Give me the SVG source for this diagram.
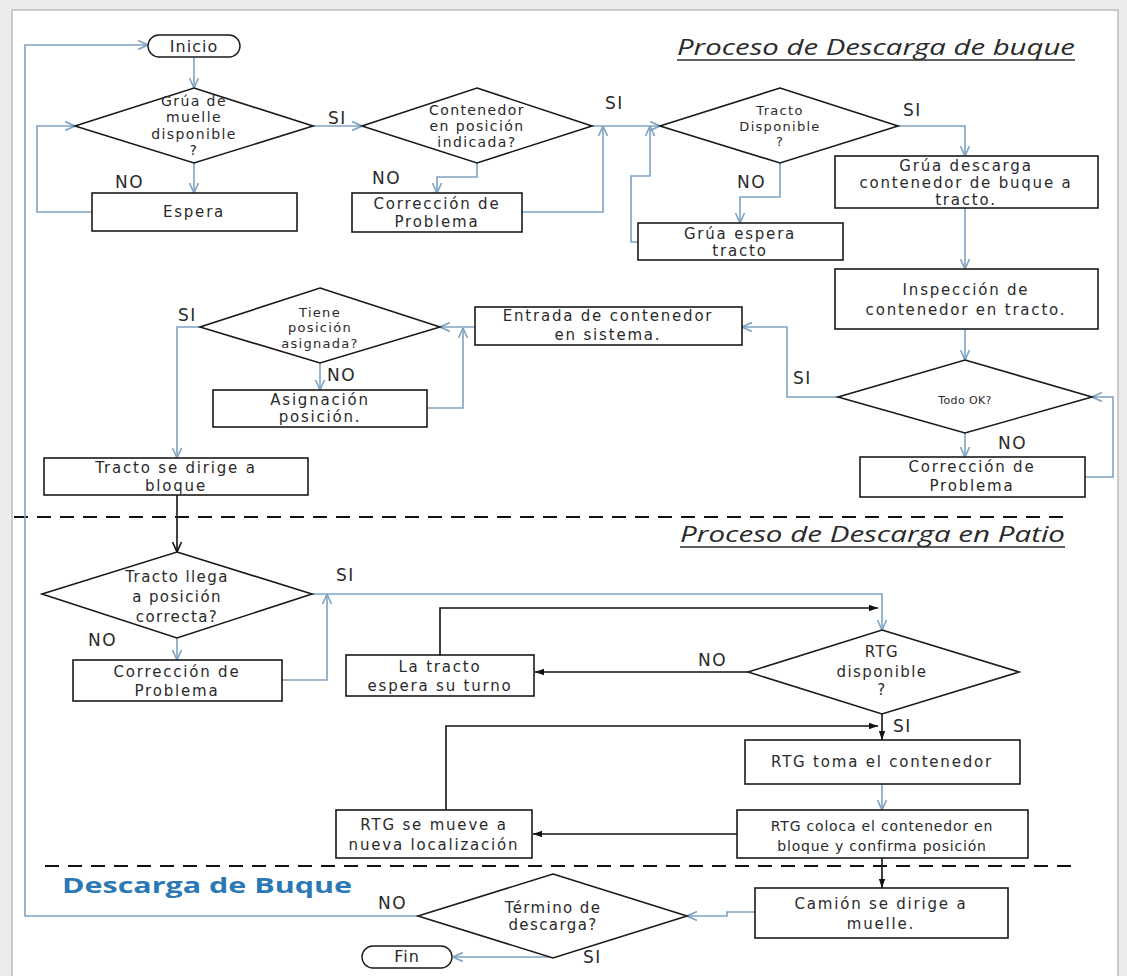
<svg xmlns="http://www.w3.org/2000/svg" width="1127" height="976" viewBox="0 0 1127 976">
<defs>
<marker id="ab" viewBox="0 0 10 10" refX="10" refY="5" markerWidth="10" markerHeight="10" markerUnits="userSpaceOnUse" orient="auto"><path d="M0,0.5 L10,5 L0,9.5" fill="none" stroke="#7fa3c3" stroke-width="1.6"/></marker>
<marker id="ak" viewBox="0 0 10 10" refX="10" refY="5" markerWidth="10" markerHeight="10" markerUnits="userSpaceOnUse" orient="auto"><path d="M0,0.5 L10,5 L0,9.5" fill="none" stroke="#111" stroke-width="1.6"/></marker>
<marker id="af" viewBox="0 0 10 10" refX="10" refY="5" markerWidth="9" markerHeight="9" markerUnits="userSpaceOnUse" orient="auto"><path d="M0,1.5 L10,5 L0,8.5 z" fill="#111"/></marker>
</defs>
<style>
.bg{fill:#ececec}
.panel{fill:#fff;stroke:#bdbdbd;stroke-width:1.5}
.box{fill:#fff;stroke:#1a1a1a;stroke-width:1.6}
.term{fill:#fff;stroke:#1a1a1a;stroke-width:1.4}
.t{font-family:"DejaVu Sans",sans-serif;font-size:15px;letter-spacing:1.8px;fill:#2a2a2a;text-anchor:middle}
.d14{font-size:14px;letter-spacing:1.4px}
.d13{font-size:13px;letter-spacing:1.3px}
.d15{font-size:15px;letter-spacing:1.4px}
.s14{font-size:14px;letter-spacing:0.8px}
.s16{font-size:16px;letter-spacing:1px}
.s11{font-size:11px;letter-spacing:0.4px}
.lbl{font-family:"DejaVu Sans",sans-serif;font-size:17px;letter-spacing:1.5px;fill:#2a2a2a}
.cb{fill:none;stroke:#7fa3c3;stroke-width:1.6}
.ck{fill:none;stroke:#111;stroke-width:1.6}
.dash{fill:none;stroke:#111;stroke-width:2.2;stroke-dasharray:14 9}
.title{font-family:"Open Sans",sans-serif;font-style:italic;font-size:22px;fill:#2a2a2a}
.ul{stroke:#2a2a2a;stroke-width:1.3}
.sec{font-family:"Open Sans",sans-serif;font-weight:bold;font-size:22px;fill:#2b78b5}
</style>
<rect class="bg" x="0" y="0" width="1127" height="976"/>
<rect class="panel" x="12" y="10" width="1106" height="980"/>

<g id="titles">
<text class="title" x="677" y="55" textLength="398" lengthAdjust="spacingAndGlyphs">Proceso de Descarga de buque</text>
<line class="ul" x1="677" y1="60" x2="1075" y2="60"/>
<text class="title" x="680" y="542" textLength="385" lengthAdjust="spacingAndGlyphs">Proceso de Descarga en Patio</text>
<line class="ul" x1="680" y1="547" x2="1065" y2="547"/>
<text class="sec" x="62" y="893" textLength="290" lengthAdjust="spacingAndGlyphs">Descarga de Buque</text>
<line class="dash" x1="14" y1="517" x2="1072" y2="517"/>
<line class="dash" x1="45" y1="866" x2="1072" y2="866"/>
</g>

<g id="connectors">
<path class="cb" d="M194,57 V88" marker-end="url(#ab)"/>
<path class="cb" d="M194,163 V193" marker-end="url(#ab)"/>
<path class="cb" d="M92,212 H37 V126 H75" marker-end="url(#ab)"/>
<path class="cb" d="M313,126 H362" marker-end="url(#ab)"/>
<path class="cb" d="M477,163 V177 H437 V193" marker-end="url(#ab)"/>
<path class="cb" d="M522,212 H603 V126" marker-end="url(#ab)"/>
<path class="cb" d="M592,126 H660" marker-end="url(#ab)"/>
<path class="cb" d="M638,242 H631 V176 H650 V126" marker-end="url(#ab)"/>
<path class="cb" d="M780,163 V197 H740 V223" marker-end="url(#ab)"/>
<path class="cb" d="M898,126 H965 V156" marker-end="url(#ab)"/>
<path class="cb" d="M965,208 V269" marker-end="url(#ab)"/>
<path class="cb" d="M965,329 V360" marker-end="url(#ab)"/>
<path class="cb" d="M965,433 V457" marker-end="url(#ab)"/>
<path class="cb" d="M1085,477 H1113 V397 H1092" marker-end="url(#ab)"/>
<path class="cb" d="M838,397 H787 V327 H742" marker-end="url(#ab)"/>
<path class="cb" d="M475,327 H440" marker-end="url(#ab)"/>
<path class="cb" d="M427,408 H463 V328" marker-end="url(#ab)"/>
<path class="cb" d="M320,363 V390" marker-end="url(#ab)"/>
<path class="cb" d="M200,327 H177 V458" marker-end="url(#ab)"/>
<path class="ck" d="M177,495 V552" marker-end="url(#ak)"/>
<path class="cb" d="M177,638 V660" marker-end="url(#ab)"/>
<path class="cb" d="M282,680 H327 V594" marker-end="url(#ab)"/>
<path class="cb" d="M312,594 H882 V630" marker-end="url(#ab)"/>
<path class="ck" d="M440,655 V608 H878" marker-end="url(#af)"/>
<path class="ck" d="M748,672 H535" marker-end="url(#af)"/>
<path class="ck" d="M882,714 V740" marker-end="url(#af)"/>
<path class="ck" d="M446,810 V726 H878" marker-end="url(#af)"/>
<path class="cb" d="M882,784 V810" marker-end="url(#ab)"/>
<path class="ck" d="M737,834 H533" marker-end="url(#af)"/>
<path class="ck" d="M882,858 V888" marker-end="url(#af)"/>
<path class="cb" d="M755,912 H727 V916 H687" marker-end="url(#ab)"/>
<path class="cb" d="M418,916 H25 V45 H148" marker-end="url(#ab)"/>
<path class="cb" d="M553,958 V957 H453" marker-end="url(#ab)"/>
</g>

<g id="labels">
<text class="lbl" x="328" y="124">SI</text>
<text class="lbl" x="115" y="188">NO</text>
<text class="lbl" x="372" y="184">NO</text>
<text class="lbl" x="605" y="109">SI</text>
<text class="lbl" x="737" y="188">NO</text>
<text class="lbl" x="903" y="116">SI</text>
<text class="lbl" x="793" y="384">SI</text>
<text class="lbl" x="998" y="449">NO</text>
<text class="lbl" x="178" y="321">SI</text>
<text class="lbl" x="327" y="381">NO</text>
<text class="lbl" x="88" y="646">NO</text>
<text class="lbl" x="336" y="581">SI</text>
<text class="lbl" x="698" y="666">NO</text>
<text class="lbl" x="893" y="732">SI</text>
<text class="lbl" x="378" y="909">NO</text>
<text class="lbl" x="583" y="963">SI</text>
</g>

<g id="inicio"><rect class="term" x="148" y="35" width="92" height="22" rx="11"/><text class="t s16" x="194" y="52">Inicio</text></g>
<g id="d-grua"><polygon class="box" points="194,88 313,126 194,163 75,126"/>
<text class="t d14" x="194" y="106">Grúa de</text><text class="t d14" x="194" y="122">muelle</text><text class="t d14" x="194" y="139">disponible</text><text class="t d14" x="194" y="155">?</text></g>
<g id="espera"><rect class="box" x="92" y="193" width="205" height="38"/><text class="t" x="194" y="217">Espera</text></g>
<g id="d-contenedor"><polygon class="box" points="477,88 592,126 477,163 362,126"/>
<text class="t d14" x="477" y="115">Contenedor</text><text class="t d14" x="477" y="131">en posición</text><text class="t d14" x="477" y="147">indicada?</text></g>
<g id="correccion1"><rect class="box" x="352" y="193" width="170" height="39"/><text class="t" x="437" y="209">Corrección de</text><text class="t" x="437" y="227">Problema</text></g>
<g id="d-tracto"><polygon class="box" points="780,88 898,126 780,163 660,126"/>
<text class="t d13" x="780" y="115">Tracto</text><text class="t d13" x="780" y="131">Disponible</text><text class="t d13" x="780" y="146">?</text></g>
<g id="grua-espera"><rect class="box" x="638" y="223" width="205" height="37"/><text class="t" x="740" y="239">Grúa espera</text><text class="t" x="740" y="256">tracto</text></g>
<g id="grua-descarga"><rect class="box" x="835" y="156" width="263" height="52"/><text class="t" x="966" y="171">Grúa descarga</text><text class="t" x="966" y="188">contenedor de buque a</text><text class="t" x="966" y="205">tracto.</text></g>
<g id="inspeccion"><rect class="box" x="835" y="269" width="263" height="60"/><text class="t" x="966" y="295">Inspección de</text><text class="t" x="966" y="315">contenedor en tracto.</text></g>
<g id="d-todo"><polygon class="box" points="965,360 1092,397 965,433 838,397"/><text class="t s11" x="965" y="404">Todo OK?</text></g>
<g id="correccion3"><rect class="box" x="860" y="457" width="225" height="40"/><text class="t" x="972" y="472">Corrección de</text><text class="t" x="972" y="491">Problema</text></g>
<g id="entrada"><rect class="box" x="475" y="307" width="267" height="38"/><text class="t" x="608" y="321">Entrada de contenedor</text><text class="t" x="608" y="340">en sistema.</text></g>
<g id="d-tiene"><polygon class="box" points="320,288 440,327 320,363 200,327"/>
<text class="t d13" x="320" y="317">Tiene</text><text class="t d13" x="320" y="332">posición</text><text class="t d13" x="320" y="348">asignada?</text></g>
<g id="asignacion"><rect class="box" x="213" y="390" width="214" height="37"/><text class="t" x="320" y="405">Asignación</text><text class="t" x="320" y="422">posición.</text></g>
<g id="tracto-dirige"><rect class="box" x="44" y="458" width="264" height="37"/><text class="t" x="176" y="473">Tracto se dirige a</text><text class="t" x="176" y="491">bloque</text></g>

<g id="d-llega"><polygon class="box" points="177,552 312,594 177,638 42,594"/>
<text class="t d15" x="177" y="582">Tracto llega</text><text class="t d15" x="177" y="602">a posición</text><text class="t d15" x="177" y="622">correcta?</text></g>
<g id="correccion2"><rect class="box" x="73" y="660" width="209" height="41"/><text class="t" x="177" y="677">Corrección de</text><text class="t" x="177" y="696">Problema</text></g>
<g id="la-tracto"><rect class="box" x="346" y="655" width="188" height="41"/><text class="t" x="440" y="672">La tracto</text><text class="t" x="440" y="691">espera su turno</text></g>
<g id="d-rtg"><polygon class="box" points="882,630 1019,672 882,714 748,672"/>
<text class="t d15" x="882" y="657">RTG</text><text class="t d15" x="882" y="677">disponible</text><text class="t d15" x="882" y="695">?</text></g>
<g id="rtg-toma"><rect class="box" x="745" y="740" width="275" height="44"/><text class="t" x="882" y="767">RTG toma el contenedor</text></g>
<g id="rtg-coloca"><rect class="box" x="737" y="810" width="291" height="48"/><text class="t s14" x="882" y="831">RTG coloca el contenedor en</text><text class="t s14" x="882" y="851">bloque y confirma posición</text></g>
<g id="rtg-mueve"><rect class="box" x="336" y="810" width="196" height="48"/><text class="t" x="434" y="830">RTG se mueve a</text><text class="t" x="434" y="850">nueva localización</text></g>
<g id="camion"><rect class="box" x="755" y="888" width="253" height="50"/><text class="t" x="881" y="909">Camión se dirige a</text><text class="t" x="881" y="929">muelle.</text></g>
<g id="d-termino"><polygon class="box" points="553,874 687,916 553,958 418,916"/>
<text class="t d15" x="553" y="913">Término de</text><text class="t d15" x="553" y="930">descarga?</text></g>
<g id="fin"><rect class="term" x="362" y="946" width="90" height="22" rx="11"/><text class="t s16" x="407" y="962">Fin</text></g>
</svg>
